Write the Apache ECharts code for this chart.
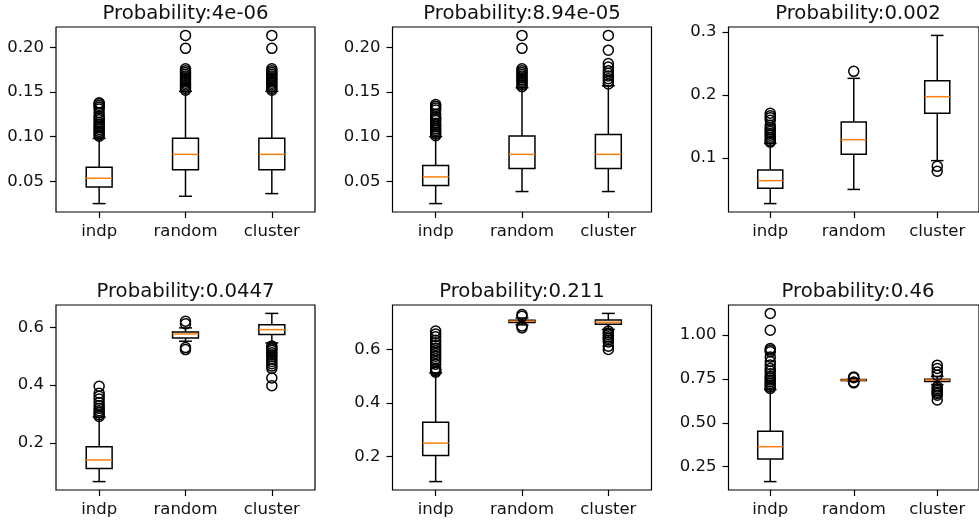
<!DOCTYPE html>
<html>
<head>
<meta charset="utf-8">
<script src="https://cdn.jsdelivr.net/npm/echarts@6/dist/echarts.min.js"></script>
<style>
  html, body { margin: 0; padding: 0; background: #fff; }
  #chart { width: 979px; height: 524px; }
</style>
</head>
<body>
<div id="chart"></div>
<script>
const categories = ['indp', 'random', 'cluster'];
const titles = ['Probability:4e-06', 'Probability:8.94e-05', 'Probability:0.002',
                'Probability:0.0447', 'Probability:0.211', 'Probability:0.46'];

// box stats per category: [low whisker, Q1, median, Q3, high whisker]
const boxP1 = [[0.025, 0.0437, 0.0534, 0.0657, 0.098], [0.0332, 0.0628, 0.0802, 0.0982, 0.1508], [0.0362, 0.0628, 0.0802, 0.0982, 0.1508]];
const boxP2 = [[0.025, 0.0452, 0.0549, 0.0676, 0.100], [0.0385, 0.0642, 0.0802, 0.1008, 0.1549], [0.0385, 0.0642, 0.0802, 0.1023, 0.157]];
const boxP3 = [[0.0275, 0.0518, 0.064, 0.081, 0.123], [0.050, 0.1057, 0.129, 0.157, 0.2264], [0.0957, 0.1708, 0.1973, 0.2227, 0.2946]];
const boxP4 = [[0.067, 0.112, 0.142, 0.187, 0.29], [0.552, 0.563, 0.577, 0.584, 0.598], [0.546, 0.575, 0.592, 0.609, 0.648]];
const boxP5 = [[0.106, 0.2038, 0.25, 0.3275, 0.5127], [0.692, 0.701, 0.706, 0.709, 0.718], [0.675, 0.694, 0.702, 0.71, 0.735]];
const boxP6 = [[0.165, 0.294, 0.364, 0.452, 0.69], [0.738, 0.741, 0.744, 0.747, 0.752], [0.718, 0.736, 0.744, 0.748, 0.765]];

// fliers per category
const outP1 = [
  [0.1005, 0.102, 0.104, 0.106, 0.108, 0.110, 0.112, 0.114, 0.116, 0.119, 0.121, 0.123, 0.127, 0.131, 0.133, 0.135, 0.137, 0.138],
  [0.152, 0.154, 0.156, 0.158, 0.160, 0.162, 0.164, 0.166, 0.168, 0.170, 0.172, 0.174, 0.176, 0.199, 0.2135],
  [0.152, 0.154, 0.156, 0.158, 0.160, 0.162, 0.164, 0.166, 0.168, 0.170, 0.172, 0.174, 0.176, 0.199, 0.2135]
];
const outP2 = [
  [0.101, 0.103, 0.105, 0.107, 0.109, 0.111, 0.113, 0.115, 0.118, 0.120, 0.122, 0.125, 0.130, 0.132, 0.134, 0.136],
  [0.156, 0.158, 0.160, 0.162, 0.164, 0.166, 0.168, 0.170, 0.172, 0.174, 0.176, 0.199, 0.2135],
  [0.159, 0.162, 0.165, 0.168, 0.171, 0.174, 0.178, 0.182, 0.197, 0.2135]
];
const outP3 = [
  [0.125, 0.127, 0.130, 0.133, 0.136, 0.139, 0.142, 0.145, 0.148, 0.152, 0.160, 0.164, 0.167, 0.171],
  [0.2375],
  [0.0867, 0.0788]
];
const outP4 = [
  [0.292, 0.298, 0.305, 0.312, 0.320, 0.330, 0.340, 0.352, 0.362, 0.372, 0.396],
  [0.523, 0.530, 0.612, 0.621],
  [0.535, 0.530, 0.525, 0.520, 0.512, 0.505, 0.498, 0.490, 0.482, 0.474, 0.466, 0.458, 0.425, 0.398]
];
const outP5 = [
  [0.515, 0.52, 0.525, 0.53, 0.545, 0.555, 0.565, 0.575, 0.585, 0.595, 0.605, 0.615, 0.625, 0.635, 0.648, 0.658, 0.669],
  [0.681, 0.688, 0.724, 0.731],
  [0.669, 0.662, 0.655, 0.648, 0.642, 0.636, 0.628, 0.612, 0.600]
];
const outP6 = [
  [0.696, 0.705, 0.715, 0.725, 0.735, 0.745, 0.755, 0.765, 0.78, 0.795, 0.81, 0.83, 0.85, 0.875, 0.905, 0.915, 0.924, 1.028, 1.124],
  [0.728, 0.733, 0.757, 0.762],
  [0.829, 0.81, 0.79, 0.772, 0.705, 0.695, 0.685, 0.675, 0.667, 0.658, 0.63]
];

const yTicks1 = ['0.05', '0.10', '0.15', '0.20'];
const yTicks2 = ['0.05', '0.10', '0.15', '0.20'];
const yTicks3 = ['0.1', '0.2', '0.3'];
const yTicks4 = ['0.2', '0.4', '0.6'];
const yTicks5 = ['0.2', '0.4', '0.6'];
const yTicks6 = ['0.25', '0.50', '0.75', '1.00'];

const panels = [
  { box: boxP1, out: outP1, ticks: yTicks1 },
  { box: boxP2, out: outP2, ticks: yTicks2 },
  { box: boxP3, out: outP3, ticks: yTicks3 },
  { box: boxP4, out: outP4, ticks: yTicks4 },
  { box: boxP5, out: outP5, ticks: yTicks5 },
  { box: boxP6, out: outP6, ticks: yTicks6 }
];

const FONT = 'DejaVu Sans';
const gridLefts = [56, 392.5, 728.5];
const gridTops = [27, 305];
const gridW = 259, gridH = 185;

let grids = [], xAxes = [], yAxes = [], series = [], titleList = [];

panels.forEach(function (p, k) {
  let col = k % 3, row = Math.floor(k / 3);
  grids.push({
    left: gridLefts[col], top: gridTops[row], width: gridW, height: gridH,
    show: true, borderColor: '#000', borderWidth: 1.2, backgroundColor: 'transparent'
  });

  // matplotlib style 5% margin around data
  let all = [];
  p.box.forEach(function (b) { all.push(b[0], b[4]); });
  p.out.forEach(function (o) { all = all.concat(o); });
  let lo = Math.min.apply(null, all), hi = Math.max.apply(null, all);
  let pad = (hi - lo) * 0.05;
  let tickVals = p.ticks.map(parseFloat);

  xAxes.push({
    type: 'category', gridIndex: k, data: categories, boundaryGap: true,
    axisLine: { show: false },
    axisTick: { show: true, alignWithLabel: true, length: 6, lineStyle: { color: '#000', width: 1.2 } },
    axisLabel: { margin: 11, fontSize: 16.5, fontFamily: FONT, color: '#111' },
    splitLine: { show: false }
  });
  yAxes.push({
    type: 'value', gridIndex: k, min: lo - pad, max: hi + pad, scale: true,
    axisLine: { show: false },
    axisTick: { show: true, length: 6, customValues: tickVals, lineStyle: { color: '#000', width: 1.2 } },
    axisLabel: {
      margin: 12, fontSize: 16.5, fontFamily: FONT, color: '#111',
      customValues: tickVals,
      formatter: function (v) {
        let i = tickVals.findIndex(function (t) { return Math.abs(t - v) < 1e-9; });
        return i >= 0 ? p.ticks[i] : '';
      }
    },
    splitLine: { show: false }
  });

  titleList.push({
    text: titles[k], left: gridLefts[col] + gridW / 2, top: gridTops[row] - 23, textAlign: 'center', padding: 0,
    textStyle: { fontSize: 19.7, fontWeight: 'normal', fontFamily: FONT, color: '#111' }
  });

  series.push({
    type: 'custom', xAxisIndex: k, yAxisIndex: k,
    data: p.box.map(function (b, i) { return [i].concat(b); }),
    encode: { x: 0, y: [1, 2, 3, 4, 5] },
    renderItem: function (params, api) {
      let i = api.value(0);
      let w = api.size([1, 0])[0] * 0.3;
      let pLow = api.coord([i, api.value(1)]);
      let pQ1 = api.coord([i, api.value(2)]);
      let pMed = api.coord([i, api.value(3)]);
      let pQ3 = api.coord([i, api.value(4)]);
      let pHigh = api.coord([i, api.value(5)]);
      let x = pMed[0];
      let ls = { stroke: '#000', lineWidth: 1.5, fill: null };
      return {
        type: 'group',
        children: [
          { type: 'line', shape: { x1: x, y1: pLow[1], x2: x, y2: pQ1[1] }, style: ls },
          { type: 'line', shape: { x1: x, y1: pQ3[1], x2: x, y2: pHigh[1] }, style: ls },
          { type: 'line', shape: { x1: x - w / 4, y1: pLow[1], x2: x + w / 4, y2: pLow[1] }, style: ls },
          { type: 'line', shape: { x1: x - w / 4, y1: pHigh[1], x2: x + w / 4, y2: pHigh[1] }, style: ls },
          { type: 'rect', shape: { x: x - w / 2, y: pQ3[1], width: w, height: pQ1[1] - pQ3[1] }, style: ls },
          { type: 'line', shape: { x1: x - w / 2, y1: pMed[1], x2: x + w / 2, y2: pMed[1] }, style: { stroke: '#ff7f0e', lineWidth: 1.5 } }
        ]
      };
    },
    silent: true, animation: false
  });

  let pts = [];
  p.out.forEach(function (o, i) { o.forEach(function (v) { pts.push([i, v]); }); });
  series.push({
    type: 'scatter', xAxisIndex: k, yAxisIndex: k, data: pts,
    symbol: 'circle', symbolSize: 10,
    itemStyle: { color: 'rgba(0,0,0,0)', borderColor: '#000', borderWidth: 1.5, opacity: 1 },
    silent: true, animation: false
  });
});

let chart = echarts.init(document.getElementById('chart'));
chart.setOption({
  backgroundColor: '#fff',
  animation: false,
  title: titleList,
  grid: grids,
  xAxis: xAxes,
  yAxis: yAxes,
  series: series
});
</script>
</body>
</html>
